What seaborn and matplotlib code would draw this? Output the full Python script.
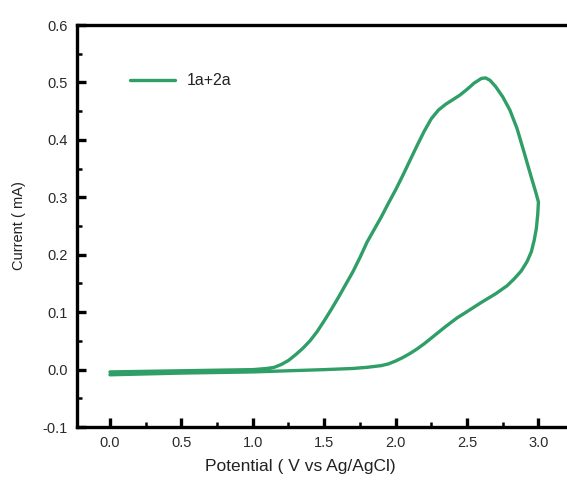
import numpy as np
import pandas as pd
import matplotlib
matplotlib.use("Agg")
import matplotlib.pyplot as plt
import seaborn as sns
from matplotlib.ticker import MultipleLocator

# Cyclic voltammogram: forward scan then reverse scan
potential = [0.0, 0.5, 1.0, 1.1, 1.15, 1.2, 1.25, 1.3, 1.35, 1.4, 1.45, 1.5, 1.55, 1.6,
             1.65, 1.7, 1.75, 1.8, 1.85, 1.9, 1.95, 2.0, 2.05, 2.1, 2.15, 2.2, 2.25, 2.3,
             2.35, 2.4, 2.45, 2.5, 2.55, 2.6, 2.63, 2.66, 2.7, 2.75, 2.8, 2.85, 2.9, 2.95,
             2.98, 3.0,
             2.995, 2.985, 2.97, 2.95, 2.92, 2.88, 2.83, 2.78, 2.7, 2.6, 2.5, 2.43, 2.35,
             2.3, 2.25, 2.2, 2.15, 2.1, 2.05, 2.0, 1.95, 1.9, 1.8, 1.7, 1.5, 1.0, 0.5, 0.0]
current = [-0.004, -0.002, 0.0, 0.002, 0.004, 0.009, 0.016, 0.026, 0.037, 0.05, 0.066,
           0.085, 0.105, 0.126, 0.148, 0.17, 0.195, 0.222, 0.244, 0.266, 0.29, 0.313,
           0.338, 0.364, 0.39, 0.415, 0.437, 0.452, 0.462, 0.47, 0.478, 0.488, 0.499,
           0.507, 0.508, 0.504, 0.493, 0.475, 0.452, 0.42, 0.378, 0.335, 0.31, 0.292,
           0.27, 0.245, 0.225, 0.205, 0.188, 0.172, 0.158, 0.146, 0.132, 0.117, 0.101,
           0.09, 0.075, 0.065, 0.055, 0.045, 0.036, 0.028, 0.021, 0.015, 0.01, 0.007,
           0.004, 0.002, 0.0, -0.004, -0.006, -0.009]
series_label = "1a+2a"
x_ticks = [0.0, 0.5, 1.0, 1.5, 2.0, 2.5, 3.0]
y_ticks = [-0.1, 0.0, 0.1, 0.2, 0.3, 0.4, 0.5, 0.6]

df = pd.DataFrame({"Potential": potential, "Current": current, "series": series_label})

sns.set_style("ticks")
plt.rcParams["font.family"] = ["Liberation Sans", "DejaVu Sans"]

fig = plt.figure(figsize=(5.67, 4.82), dpi=100)
ax = fig.add_axes([0.136, 0.114, 0.864, 0.834])

sns.lineplot(data=df, x="Potential", y="Current", hue="series", sort=False,
             estimator=None, units="series", palette=["#2f9e67"], linewidth=2.4,
             solid_joinstyle="round", solid_capstyle="round", ax=ax)

ax.set_xlim(-0.23, 3.2)
ax.set_ylim(-0.1, 0.6)
ax.set_xticks(x_ticks)
ax.set_yticks(y_ticks)
ax.set_xticklabels([f"{v:.1f}" for v in x_ticks])
ax.set_yticklabels([f"{v:.1f}" for v in y_ticks])
ax.xaxis.set_minor_locator(MultipleLocator(0.25))
ax.yaxis.set_minor_locator(MultipleLocator(0.05))
ax.tick_params(which="both", bottom=True, left=True, top=False, right=False,
               color="black", direction="in")
ax.tick_params(which="major", length=6.5, width=2.4, labelsize=10.5,
               labelcolor="#2a2a2a", pad=6.5)
ax.tick_params(which="minor", length=3.5, width=1.8)
for side in ["left", "bottom", "top"]:
    ax.spines[side].set_linewidth(2.4)
    ax.spines[side].set_color("black")
ax.spines["right"].set_visible(False)

ax.set_xlabel("Potential ( V vs Ag/AgCl)", fontsize=12.5, color="#222222")
ax.set_ylabel("Current ( mA)", fontsize=10.5, color="#222222")
ax.xaxis.set_label_coords(0.455, -0.08)
ax.yaxis.set_label_coords(-0.105, 0.5)

leg = ax.legend(loc="center left", bbox_to_anchor=(0.095, 0.861), frameon=False,
                fontsize=11.5, handlelength=2.8, handletextpad=0.75, borderaxespad=0)
for t in leg.get_texts():
    t.set_color("#222222")

fig.savefig("out.png", dpi=100)
